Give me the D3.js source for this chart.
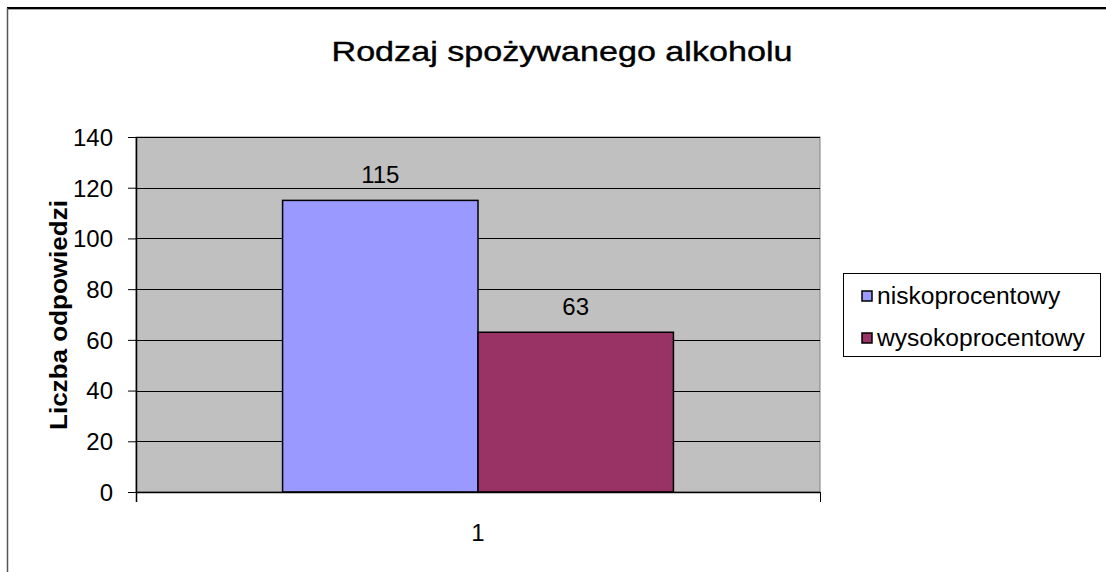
<!DOCTYPE html>
<html><head><meta charset="utf-8">
<script src="https://cdn.jsdelivr.net/npm/d3@7"></script>
<style>html,body{margin:0;padding:0;background:#fff;}svg{display:block;font-family:"Liberation Sans",Arial,sans-serif;}</style>
</head><body>
<svg id="c" width="1106" height="572"></svg>
<script>
const categories = ["1"];
const seriesNames = ["niskoprocentowy", "wysokoprocentowy"];
const seriesValues = [115, 63];
const seriesColors = ["#9999FF", "#993366"];
const yTicks = [0, 20, 40, 60, 80, 100, 120, 140];
const titleText = "Rodzaj spożywanego alkoholu";
const yLabelText = "Liczba odpowiedzi";

const svg = d3.select("#c");
// outer frame
svg.append("line").attr("x1",7).attr("x2",1106).attr("y1",9.5).attr("y2",9.5).attr("stroke","#aaa").attr("stroke-width",1);
svg.append("line").attr("x1",7).attr("x2",1106).attr("y1",8).attr("y2",8).attr("stroke","#000").attr("stroke-width",2);
svg.append("line").attr("x1",7.5).attr("x2",7.5).attr("y1",8).attr("y2",572).attr("stroke","#555").attr("stroke-width",1.5);

const L = 136, R = 820, T = 137, B = 492;
const y = d3.scaleLinear().domain([0,140]).range([B,T]);
const x0 = d3.scaleBand().domain(categories).range([L,R]).paddingInner(0).paddingOuter(0);
const x1 = d3.scaleBand().domain(seriesNames).range([0, x0.bandwidth()]).paddingInner(0).paddingOuter(0.75);

// plot area
svg.append("rect").attr("x",L).attr("y",T).attr("width",R-L).attr("height",B-T).attr("fill","#C0C0C0").attr("stroke","#808080").attr("stroke-width",1);
// gridlines
svg.append("g").selectAll("line").data(yTicks.filter(d=>d>0)).join("line")
  .attr("x1",L).attr("x2",R).attr("y1",d=>Math.round(y(d))+0.5).attr("y2",d=>Math.round(y(d))+0.5)
  .attr("stroke","#000").attr("stroke-width",1);

// bars
const g = svg.append("g");
categories.forEach(c => {
  seriesNames.forEach((s,i) => {
    g.append("rect")
      .attr("x", x0(c) + x1(s)).attr("y", y(seriesValues[i]))
      .attr("width", x1.bandwidth()).attr("height", B - y(seriesValues[i]))
      .attr("fill", seriesColors[i]).attr("stroke","#000").attr("stroke-width",1.5);
    g.append("text").attr("x", x0(c) + x1(s) + x1.bandwidth()/2).attr("y", y(seriesValues[i]) - 17)
      .attr("text-anchor","middle").attr("font-size",24).attr("fill","#000").text(seriesValues[i]);
  });
});

// y axis
const ya = svg.append("g").attr("transform",`translate(${L},0)`)
  .call(d3.axisLeft(y).tickValues(yTicks).tickSize(8).tickPadding(15).tickSizeOuter(0));
ya.select(".domain").remove();
ya.selectAll("line").attr("stroke","#000");
ya.selectAll("text").attr("font-size",24).attr("font-family","Liberation Sans, Arial").attr("fill","#000").attr("dy","0.35em");
svg.append("line").attr("x1",L+0.5).attr("x2",L+0.5).attr("y1",T).attr("y2",B+10).attr("stroke","#000").attr("stroke-width",1.5);

// x axis
svg.append("line").attr("x1",L).attr("x2",R).attr("y1",B+0.5).attr("y2",B+0.5).attr("stroke","#000").attr("stroke-width",1.5);
const xa = svg.append("g").attr("transform",`translate(0,${B})`)
  .call(d3.axisBottom(x0).tickSize(0).tickPadding(32));
xa.select(".domain").remove();
xa.selectAll("text").attr("font-size",24).attr("font-family","Liberation Sans, Arial").attr("fill","#000");
svg.append("g").selectAll("line").data([L, R]).join("line")
  .attr("x1",d=>d+0.5).attr("x2",d=>d+0.5).attr("y1",B).attr("y2",B+10).attr("stroke","#000").attr("stroke-width",1);

// title
svg.append("text").attr("x",562).attr("y",61).attr("text-anchor","middle").attr("font-size",28)
  .attr("stroke","#000").attr("stroke-width",0.4)
  .attr("textLength",461).attr("lengthAdjust","spacingAndGlyphs").text(titleText);
// y label
svg.append("text").attr("transform","translate(67,315) rotate(-90)").attr("text-anchor","middle")
  .attr("font-size",24).attr("font-weight","bold").attr("textLength",230).attr("lengthAdjust","spacingAndGlyphs").text(yLabelText);

// legend
const lg = svg.append("g");
lg.append("rect").attr("x",843.5).attr("y",273.5).attr("width",257).attr("height",83).attr("fill","#fff").attr("stroke","#000").attr("stroke-width",1);
seriesNames.forEach((s,i) => {
  const cy = 296 + i*42;
  lg.append("rect").attr("x",862).attr("y",cy-5).attr("width",10).attr("height",10).attr("fill",seriesColors[i]).attr("stroke","#000").attr("stroke-width",1.5);
  lg.append("text").attr("x",877).attr("y",cy+8).attr("font-size",24.6).text(s);
});
</script>
</body></html>
